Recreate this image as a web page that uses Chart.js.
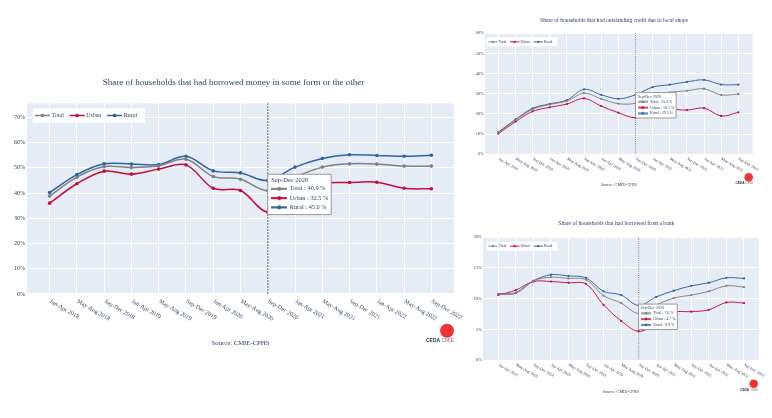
<!DOCTYPE html>
<html>
<head>
<meta charset="utf-8">
<script src="https://cdn.jsdelivr.net/npm/chart.js@4.4.1/dist/chart.umd.min.js"></script>
<style>
  body { margin: 0; background: #fff; width: 772px; height: 418px; overflow: hidden; position: relative; }
  canvas { position: absolute; }
</style>
</head>
<body>
<canvas id="borrowChart" width="470" height="360" style="left:0;top:0"></canvas>
<canvas id="shopChart" width="302" height="200" style="left:470px;top:0"></canvas>
<canvas id="bankChart" width="302" height="200" style="left:470px;top:210px"></canvas>
<script>
// periods (CPHS waves)
const periods = ["Jan-Apr 2018", "May-Aug 2018", "Sep-Dec 2018", "Jan-Apr 2019", "May-Aug 2019",
  "Sep-Dec 2019", "Jan-Apr 2020", "May-Aug 2020", "Sep-Dec 2020", "Jan-Apr 2021",
  "May-Aug 2021", "Sep-Dec 2021", "Jan-Apr 2022", "May-Aug 2022", "Sep-Dec 2022"];
const seriesNames = ["Total", "Urban", "Rural"];
const markerPeriod = "Sep-Dec 2020";

// borrowed money in some form (%)
const borrowTotal = [38.8, 46.3, 50.5, 50.1, 50.8, 53.4, 46.6, 45.5, 40.9, 46.3, 50.3, 51.6, 51.5, 50.7, 50.7];
const borrowUrban = [36.0, 43.7, 48.7, 47.5, 49.5, 51.2, 41.9, 41.0, 32.5, 40.0, 43.8, 44.2, 44.3, 41.9, 41.7];
const borrowRural = [40.2, 47.3, 51.6, 51.5, 51.3, 54.6, 48.8, 48.0, 45.0, 50.3, 53.7, 55.2, 54.9, 54.6, 55.0];
const borrowTicks = [0, 10, 20, 30, 40, 50, 60, 70];

// outstanding credit due to local shops (%)
const shopTotal = [10.7, 17.0, 22.3, 24.7, 26.4, 30.3, 27.5, 25.1, 25.3, 28.5, 30.7, 31.5, 32.5, 29.4, 29.9];
const shopUrban = [10.2, 16.2, 21.3, 23.3, 24.9, 27.7, 23.9, 20.6, 18.1, 20.5, 22.3, 21.9, 22.9, 19.0, 20.8];
const shopRural = [11.0, 17.3, 22.8, 25.0, 26.9, 32.2, 29.5, 27.5, 29.5, 33.3, 34.5, 35.9, 36.9, 34.6, 34.5];
const shopTicks = [0, 10, 20, 30, 40, 50, 60];

// borrowed from a bank (%)
const bankTotal = [10.7, 11.0, 12.9, 13.5, 13.3, 13.1, 10.5, 9.3, 7.6, 9.0, 10.1, 10.6, 11.2, 12.1, 11.9];
const bankUrban = [10.6, 11.4, 12.8, 12.8, 12.6, 12.4, 9.0, 6.4, 4.7, 6.0, 7.8, 7.9, 8.2, 9.4, 9.3];
const bankRural = [10.8, 10.9, 12.9, 13.9, 13.7, 13.4, 11.2, 10.6, 8.9, 10.3, 11.3, 12.1, 12.6, 13.4, 13.3];
const bankTicks = [0, 5, 10, 15, 20];

const colors = ["#808080", "#C40C3C", "#2E62A2"];
const ink = "#2a3f5f";
const serif = "'Liberation Serif', 'DejaVu Serif', serif";

// little line+dot sample used in the hover box
function swatch(color, k) {
  const c = document.createElement("canvas");
  c.width = Math.round(16 * k); c.height = Math.round(6 * k);
  const g = c.getContext("2d");
  g.strokeStyle = color; g.fillStyle = color; g.lineWidth = 1.5 * k;
  g.beginPath(); g.moveTo(0, c.height / 2); g.lineTo(c.width, c.height / 2); g.stroke();
  g.beginPath(); g.arc(c.width / 2, c.height / 2, 1.8 * k, 0, Math.PI * 2); g.fill();
  return c;
}

Chart.Tooltip.positioners.hoverMean = function(items) {
  if (!items.length) return false;
  const y = items.reduce((s, it) => s + it.element.y, 0) / items.length;
  return { x: items[0].element.x, y: y };
};

const decor = {
  id: "decor",
  beforeDraw(chart) {
    const { ctx, chartArea: a } = chart;
    ctx.save();
    ctx.fillStyle = "#E5ECF6";
    ctx.fillRect(a.left, a.top, a.right - a.left, a.bottom - a.top);
    ctx.restore();
  },
  afterDatasetsDraw(chart, args, o) {
    const { ctx, chartArea: a, scales } = chart;
    const k = o.k;
    // dotted line at the marker period
    const mx = scales.x.getPixelForValue(periods.indexOf(markerPeriod));
    ctx.save();
    ctx.strokeStyle = "#333"; ctx.lineWidth = k; ctx.setLineDash([1.5 * k, 1.5 * k]);
    ctx.beginPath(); ctx.moveTo(mx, a.top); ctx.lineTo(mx, a.bottom); ctx.stroke();
    ctx.restore();

    // legend box inside the plot
    ctx.save();
    ctx.font = (6 * k) + "px " + serif;
    const bx = a.left + o.legend.dx, by = a.top + o.legend.dy, bh = 14.4 * k, cy = by + bh / 2;
    let x = bx + 2.3 * k, end = x;
    const items = chart.data.datasets.map(d => {
      const it = { d, x, w: ctx.measureText(d.label).width };
      x += 16.7 * k + it.w + 5.7 * k;
      end = it.x + 16.7 * k + it.w;
      return it;
    });
    ctx.fillStyle = "#fff";
    ctx.fillRect(bx, by, end + 8 * k - bx, bh);
    items.forEach(it => {
      ctx.strokeStyle = it.d.borderColor; ctx.fillStyle = it.d.borderColor; ctx.lineWidth = 1.5 * k;
      ctx.beginPath(); ctx.moveTo(it.x, cy); ctx.lineTo(it.x + 15 * k, cy); ctx.stroke();
      ctx.beginPath(); ctx.arc(it.x + 7.5 * k, cy, 1.8 * k, 0, Math.PI * 2); ctx.fill();
      ctx.fillStyle = ink; ctx.textBaseline = "middle"; ctx.textAlign = "left";
      ctx.fillText(it.d.label, it.x + 16.7 * k, cy);
    });
    ctx.restore();
  },
  afterDraw(chart, args, o) {
    const { ctx, chartArea: a, scales } = chart;
    const k = o.k;
    // slanted period labels
    ctx.save();
    ctx.fillStyle = ink; ctx.font = o.xFont + "px " + serif;
    ctx.textAlign = "left"; ctx.textBaseline = "middle";
    periods.forEach((p, i) => {
      ctx.save();
      ctx.translate(scales.x.getPixelForValue(i) + 0.5 * k, a.bottom + 7 * k);
      ctx.rotate(Math.PI / 6);
      ctx.fillText(p, 0, 0);
      ctx.restore();
    });
    ctx.restore();

    // CEDA CMIE mark
    const L = o.logo;
    ctx.save();
    ctx.fillStyle = "#EC3434";
    ctx.beginPath(); ctx.arc(L.cx, L.cy, L.r, 0, Math.PI * 2); ctx.fill();
    ctx.textBaseline = "middle"; ctx.textAlign = "left";
    ctx.font = "bold " + L.size + "px 'Liberation Sans', sans-serif";
    const w1 = ctx.measureText("CEDA ").width;
    ctx.font = L.size + "px 'Liberation Sans', sans-serif";
    const w2 = ctx.measureText("CMIE").width;
    const tx = L.right - w1 - w2;
    ctx.font = "bold " + L.size + "px 'Liberation Sans', sans-serif";
    ctx.fillStyle = "#1d2a44"; ctx.fillText("CEDA ", tx, L.ty);
    ctx.font = L.size + "px 'Liberation Sans', sans-serif";
    ctx.fillStyle = "#777"; ctx.fillText("CMIE", tx + w1, L.ty);
    ctx.restore();
  }
};

function buildChart(id, cfg) {
  const k = cfg.k;
  const swatches = colors.map(c => swatch(c, k));
  const chart = new Chart(document.getElementById(id), {
    type: "line",
    data: {
      datasets: cfg.series.map((vals, i) => ({
        label: seriesNames[i],
        data: vals.map((v, j) => ({ x: j, y: v })),
        borderColor: colors[i],
        backgroundColor: colors[i],
        borderWidth: 1.5 * k,
        pointRadius: 1.8 * k,
        pointBorderWidth: 0,
        tension: 0.35,
        fill: false
      }))
    },
    options: {
      responsive: false,
      animation: false,
      events: [],
      layout: { padding: cfg.pad },
      scales: {
        x: {
          type: "linear",
          min: -cfg.xPad[0],
          max: periods.length - 1 + cfg.xPad[1],
          afterBuildTicks: s => { s.ticks = periods.map((p, i) => ({ value: i })); },
          ticks: { display: false },
          grid: { color: "#fff", lineWidth: 1, drawTicks: false },
          border: { display: false },
          afterFit: s => { s.height = cfg.xh; }
        },
        y: {
          min: 0,
          max: cfg.yMax,
          afterBuildTicks: s => { s.ticks = cfg.yTicks.map(v => ({ value: v })); },
          ticks: {
            callback: v => v + "%",
            color: ink,
            padding: 2 * k,
            font: { family: serif, size: cfg.tickFont }
          },
          grid: { color: "#fff", lineWidth: 1, drawTicks: false },
          border: { display: false },
          afterFit: s => { s.width = cfg.yw; }
        }
      },
      plugins: {
        legend: { display: false },
        title: {
          display: true,
          text: cfg.title,
          color: ink,
          font: { family: serif, size: cfg.titleFont, weight: "normal", lineHeight: 1.2 },
          padding: cfg.titlePad
        },
        subtitle: {
          display: true,
          text: "Source: CMIE-CPHS",
          position: "bottom",
          fullSize: false,
          color: ink,
          font: { family: serif, size: cfg.sourceFont, weight: "normal", lineHeight: 1.2 },
          padding: cfg.sourcePad
        },
        tooltip: {
          position: "hoverMean",
          xAlign: "left",
          yAlign: "center",
          caretSize: 0,
          caretPadding: 0,
          cornerRadius: 0,
          backgroundColor: "#fff",
          borderColor: "#9a9a9a",
          borderWidth: 1,
          titleColor: ink,
          bodyColor: ink,
          titleFont: { family: serif, size: 6.5 * k, weight: "normal", lineHeight: 1.2 },
          bodyFont: { family: serif, size: 6.3 * k, lineHeight: 1.35 },
          titleMarginBottom: 0,
          bodySpacing: 0.75 * k,
          padding: { top: 2.5 * k, bottom: 3 * k, left: 3.5 * k, right: 3 * k },
          displayColors: true,
          usePointStyle: true,
          boxWidth: 16 * k,
          boxHeight: 6 * k,
          boxPadding: 0.5 * k,
          callbacks: {
            title: items => periods[items[0].parsed.x],
            label: item => item.dataset.label + " : " + item.parsed.y.toFixed(1) + " %",
            labelPointStyle: item => ({ pointStyle: swatches[item.datasetIndex], rotation: 0 })
          }
        },
        decor: { k: k, xFont: cfg.xFont, legend: cfg.legend, logo: cfg.logo }
      }
    },
    plugins: [decor]
  });
  const idx = periods.indexOf(markerPeriod);
  chart.tooltip.setActiveElements(chart.data.datasets.map((d, i) => ({ datasetIndex: i, index: idx })), { x: 0, y: 0 });
  chart.update();
  return chart;
}

buildChart("borrowChart", {
  k: 1,
  series: [borrowTotal, borrowUrban, borrowRural],
  yTicks: borrowTicks, yMax: 75.6,
  title: "Share of households that had borrowed money in some form or the other",
  pad: { left: 13, right: 16, top: 0, bottom: 13 },
  yw: 14, xh: 40, xPad: [0.83, 0.83],
  titleFont: 9, titlePad: { top: 77.3, bottom: 15.2 },
  sourceFont: 6.7, sourcePad: { top: 5, bottom: 0 },
  tickFont: 6, xFont: 6,
  legend: { dx: 5.7, dy: 5 },
  logo: { cx: 447, cy: 330.7, r: 7, right: 454, ty: 340.7, size: 5 }
});

buildChart("shopChart", {
  k: 0.63,
  series: [shopTotal, shopUrban, shopRural],
  yTicks: shopTicks, yMax: 60,
  title: "Share of households that had outstanding credit due to local shops",
  pad: { left: 5.3, right: 19.3, top: 0, bottom: 12.2 },
  yw: 9.7, xh: 20, xPad: [0.78, 0.84],
  titleFont: 5.6, titlePad: { top: 17.3, bottom: 9.3 },
  sourceFont: 4.2, sourcePad: { top: 8.5, bottom: 0 },
  tickFont: 4.3, xFont: 4,
  legend: { dx: 1.7, dy: 4 },
  logo: { cx: 278.7, cy: 177.3, r: 4.3, right: 283.3, ty: 183.3, size: 3.2 }
});

buildChart("bankChart", {
  k: 0.63,
  series: [bankTotal, bankUrban, bankRural],
  yTicks: bankTicks, yMax: 20,
  title: "Share of households that had borrowed from a bank",
  pad: { left: 3.9, right: 13.3, top: 0, bottom: 15.5 },
  yw: 9.1, xh: 20, xPad: [0.87, 0.84],
  titleFont: 5.6, titlePad: { top: 10.6, bottom: 9.9 },
  sourceFont: 4.2, sourcePad: { top: 9.2, bottom: 0 },
  tickFont: 4.3, xFont: 4,
  legend: { dx: 3.7, dy: 4.4 },
  logo: { cx: 283.7, cy: 173.7, r: 4.3, right: 288, ty: 180, size: 3.2 }
});
</script>
</body>
</html>
